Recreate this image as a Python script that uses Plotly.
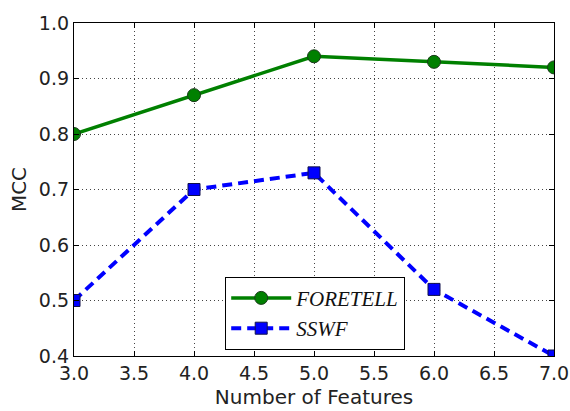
import plotly.graph_objects as go

features = [3.0, 4.0, 5.0, 6.0, 7.0]
foretell_mcc = [0.80, 0.87, 0.94, 0.93, 0.92]
sswf_mcc = [0.50, 0.70, 0.73, 0.52, 0.40]
x_ticks = [3.0, 3.5, 4.0, 4.5, 5.0, 5.5, 6.0, 6.5, 7.0]
y_ticks = [0.4, 0.5, 0.6, 0.7, 0.8, 0.9, 1.0]

fig = go.Figure()
fig.add_trace(go.Scatter(
    x=features, y=foretell_mcc, name="FORETELL", mode="lines+markers",
    line=dict(color="green", width=3.5),
    marker=dict(symbol="circle", size=13, color="green",
                line=dict(color="#1a3a1a", width=1)),
))
fig.add_trace(go.Scatter(
    x=features, y=sswf_mcc, name="SSWF", mode="lines+markers",
    line=dict(color="blue", width=4, dash="10px,6px"),
    marker=dict(symbol="square", size=12, color="blue",
                line=dict(color="#10104a", width=1)),
))

label_font = dict(family="DejaVu Sans", size=20, color="#222")

axis_common = dict(
    showline=True, linecolor="black", linewidth=1.3, mirror="ticks",
    ticks="inside", ticklen=5, tickcolor="black",
    showgrid=True, gridcolor="#444", griddash="1px,3px", gridwidth=1,
    zeroline=False, automargin=False,
    tickfont=dict(family="DejaVu Sans", size=19, color="#222"),
)

fig.update_xaxes(
    range=[3.0, 7.0], tickvals=x_ticks,
    ticktext=[f"{v:.1f}" for v in x_ticks],
    title=dict(text="Number of Features", font=label_font, standoff=7),
    **axis_common,
)
fig.update_yaxes(
    range=[0.4, 1.0], tickvals=y_ticks,
    ticktext=[f"{v:.1f}" for v in y_ticks],
    title=dict(text="MCC", font=label_font, standoff=6),
    **axis_common,
)

fig.update_layout(
    width=570, height=411,
    margin=dict(l=74, r=16, t=23, b=55),
    paper_bgcolor="white", plot_bgcolor="white",
    showlegend=True,
    legend=dict(
        x=0.315, y=0.238, xanchor="left", yanchor="top",
        bgcolor="white", bordercolor="black", borderwidth=1,
        font=dict(family="Liberation Serif", size=21, color="#111", style="italic"),
        itemwidth=60, tracegroupgap=4,
    ),
)

fig.write_html("out.html")
